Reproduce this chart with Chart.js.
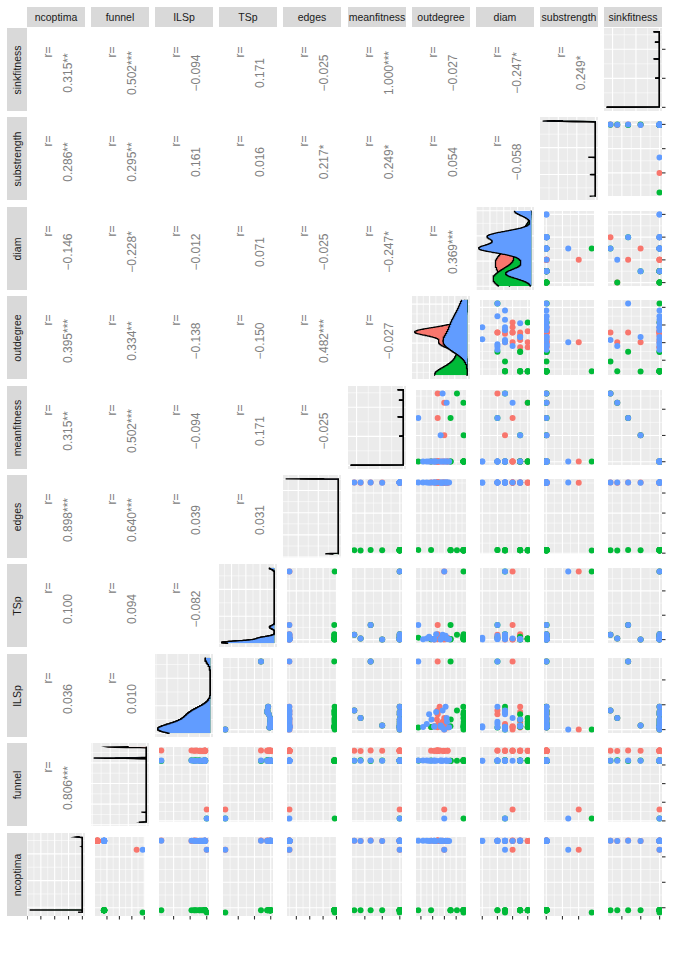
<!DOCTYPE html>
<html>
<head>
<meta charset="utf-8">
<script src="https://cdn.jsdelivr.net/npm/chart.js@4.4.0/dist/chart.umd.min.js"></script>
<style>
  body { margin: 0; background: #fff; width: 685px; height: 967px; position: relative; overflow: hidden;
         font-family: "Liberation Sans", Arial, sans-serif; }
  .strip { position: absolute; background: #d9d9d9; color: #1a1a1a; font-size: 10.5px;
           display: flex; align-items: center; justify-content: center; }
  .strip span { white-space: nowrap; }
  .strip.side span { transform: rotate(-90deg); }
  .cor { position: absolute; color: #808080; font-size: 12px; white-space: nowrap;
         transform: translate(-50%, -50%) rotate(-90deg); }
  canvas { position: absolute; }
</style>
</head>
<body>
<script>
// Observations: 17 red (group 1), 17 green (group 2), 17 blue (group 3)
const group = [1,1,1,1,1,1,1,1,1,1,1,1,1,1,1,1,1,
               2,2,2,2,2,2,2,2,2,2,2,2,2,2,2,2,2,
               3,3,3,3,3,3,3,3,3,3,3,3,3,3,3,3,3];

const ncoptima = [363.1,362.0,364.0,362.6,327.5,363.4,362.3,363.8,361.9,363.2,362.8,363.5,362.1,363.9,362.7,363.0,362.4,
                  89.9,90.1,89.8,90.2,81.6,90.0,89.9,90.1,89.8,90.0,90.2,89.9,90.0,90.1,89.8,90.0,89.9,
                  363.3,362.4,363.7,362.0,327.9,362.9,363.6,362.2,363.1,362.5,363.9,362.8,363.4,362.1,363.0,362.6,363.2];
const funnel = [0.941,0.937,0.944,0.939,0.153,0.942,0.936,0.940,0.943,0.938,0.941,0.945,0.937,0.940,0.942,0.939,0.943,
                0.806,0.812,0.803,0.809,0.033,0.811,0.805,0.808,0.814,0.802,0.807,0.810,0.804,0.813,0.806,0.809,0.807,
                0.808,0.806,0.810,0.807,0.031,0.809,0.805,0.808,0.811,0.806,0.809,0.807,0.810,0.805,0.808,0.806,0.809];
const ILSp = [0.192,0.117,0.686,0.041,0,0.026,0.034,0.022,0.230,0.079,0.030,0.154,0.056,0.177,0.102,0.024,0.028,
              0.192,0.117,0.686,0.041,0,0.026,0.034,0.022,0.230,0.079,0.030,0.154,0.056,0.177,0.102,0.024,0.028,
              0.192,0.117,0.686,0.041,0,0.026,0.034,0.022,0.230,0.079,0.030,0.154,0.056,0.177,0.102,0.024,0.028];
const TSp = [0.050,0.010,0.150,0,0.700,0.003,0.002,0.020,0.040,0.008,0.005,0.030,0.012,0.055,0.006,0.004,0.009,
             0.050,0.010,0.150,0,0.700,0.003,0.002,0.020,0.040,0.008,0.005,0.030,0.012,0.055,0.006,0.004,0.009,
             0.050,0.010,0.150,0,0.700,0.003,0.002,0.020,0.040,0.008,0.005,0.030,0.012,0.055,0.006,0.004,0.009];
const edges = [352.4,351.6,353.0,352.1,351.8,352.6,352.2,351.9,352.8,352.3,351.7,352.5,352.0,352.7,352.2,352.1,351.9,
               15.2,13.8,16.1,14.6,12.9,15.8,14.1,16.4,13.5,15.0,14.4,15.5,13.2,16.0,14.8,14.9,15.3,
               352.3,352.0,352.6,351.8,352.4,352.1,352.9,351.7,352.5,352.2,352.8,351.9,352.4,352.6,352.0,352.3,352.1];
const meanfitness = [0.901,0.811,0.667,0.502,0.2515,0.2512,0.2518,0.2514,0.2516,0.2511,0.2517,0.2513,0.2519,0.2515,0.2512,0.2514,0.2516,
                     0.901,0.811,0.667,0.502,0.2515,0.2512,0.2518,0.2514,0.2516,0.2511,0.2517,0.2513,0.2519,0.2515,0.2512,0.2514,0.2516,
                     0.901,0.811,0.667,0.502,0.2515,0.2512,0.2518,0.2514,0.2516,0.2511,0.2517,0.2513,0.2519,0.2515,0.2512,0.2514,0.2516];
const outdegree = [2.287,2.007,2.287,2.007,2.007,2.567,2.433,1.865,2.204,2.077,1.865,2.287,2.250,2.287,2.320,2.287,2.350,
                   1.466,1.190,1.738,1.182,1.186,2.567,1.745,3.112,1.195,1.178,1.188,1.192,1.184,1.180,1.731,1.187,1.183,
                   2.077,1.905,3.112,2.160,2.007,2.909,2.433,2.094,1.950,1.890,2.160,2.650,2.750,2.350,2.550,1.800,2.433];
const diam = [6,2,4,5,4,4,4,3,3,3,2,6,5,3,2,4,5,
              5,2,6,3,5,2,3,6,5,2,3,3,2,5,3,2,3,
              5,4,6,3,5,5,8,8,6,6,3,5,6,5,3,6,5];
const substrength = [0.998,0.994,1.0,0.996,0.498,0.999,0.993,0.997,1.0,0.995,0.998,0.996,0.999,0.994,1.0,0.997,0.995,
                     0.997,0.999,0.995,1.0,0.297,0.996,0.998,0.994,0.999,1.0,0.995,0.997,0.993,0.998,0.996,0.999,0.996,
                     1.0,0.996,0.998,0.995,0.660,0.999,0.997,1.0,0.994,0.998,0.996,0.999,0.995,1.0,0.997,0.998,0.996];
const sinkfitness = [0.901,0.811,0.667,0.502,0.2515,0.2512,0.2518,0.2514,0.2516,0.2511,0.2517,0.2513,0.2519,0.2515,0.2512,0.2514,0.2516,
                     0.901,0.811,0.667,0.502,0.2515,0.2512,0.2518,0.2514,0.2516,0.2511,0.2517,0.2513,0.2519,0.2515,0.2512,0.2514,0.2516,
                     0.901,0.811,0.667,0.502,0.2515,0.2512,0.2518,0.2514,0.2516,0.2511,0.2517,0.2513,0.2519,0.2515,0.2512,0.2514,0.2516];

// axis breaks (tick labels)
const ncoptimaTicks = [100, 200, 300];
const funnelTicks = [0, 0.25, 0.5, 0.75];
const ILSpTicks = [0, 0.25, 0.5];
const TSpTicks = [0, 0.25, 0.5];
const edgesTicks = [0, 100, 200, 300];
const meanfitnessTicks = [0.25, 0.5, 0.75];
const outdegreeTicks = [1.5, 2, 2.5, 3];
const diamTicks = [2, 4, 6, 8];
const substrengthTicks = [0.5, 0.75, 1];
const sinkfitnessTicks = [0.25, 0.5, 0.75];

// correlation labels, one row per variable, columns from ncoptima on
const corFunnel = ['0.806***'];
const corILSp = ['0.036', '0.010'];
const corTSp = ['0.100', '0.094', '\u22120.082'];
const corEdges = ['0.898***', '0.640***', '0.039', '0.031'];
const corMeanfitness = ['0.315**', '0.502***', '\u22120.094', '0.171', '\u22120.025'];
const corOutdegree = ['0.395***', '0.334**', '\u22120.138', '\u22120.150', '0.482***', '\u22120.027'];
const corDiam = ['\u22120.146', '\u22120.228*', '\u22120.012', '0.071', '\u22120.025', '\u22120.247*', '0.369***'];
const corSubstrength = ['0.286**', '0.295**', '0.161', '0.016', '0.217*', '0.249*', '0.054', '\u22120.058'];
const corSinkfitness = ['0.315**', '0.502***', '\u22120.094', '0.171', '\u22120.025', '1.000***', '\u22120.027', '\u22120.247*', '0.249*'];

const varNames = ['ncoptima','funnel','ILSp','TSp','edges','meanfitness','outdegree','diam','substrength','sinkfitness'];
const columns = [ncoptima, funnel, ILSp, TSp, edges, meanfitness, outdegree, diam, substrength, sinkfitness];
const tickSets = [ncoptimaTicks, funnelTicks, ILSpTicks, TSpTicks, edgesTicks, meanfitnessTicks,
                  outdegreeTicks, diamTicks, substrengthTicks, sinkfitnessTicks];
const corRows = [[], corFunnel, corILSp, corTSp, corEdges, corMeanfitness, corOutdegree, corDiam, corSubstrength, corSinkfitness];

const groupColors = {1: '#F8766D', 2: '#00BA38', 3: '#619CFF'};

// layout
const colLeft = c => Math.round(27 + 64.1 * c);
const rowTop = r => Math.round(28 + 89.4 * r);
const PW = 58, PH = 83, TICK = 5;

function limits(v) {
    const mn = Math.min(...v), mx = Math.max(...v), d = (mx - mn) * 0.05;
    return [mn - d, mx + d];
}

function minorBreaks(major, lo, hi) {
    if (major.length < 2) return [];
    const st = major[1] - major[0];
    const out = [];
    for (let v = major[0] - st / 2; v <= hi + 1e-12; v += st) {
        if (v >= lo) out.push(v);
    }
    return out.filter(v => !major.some(m => Math.abs(m - v) < st * 1e-6));
}

function prettyBreaks(max) {
    const raw = max / 4.5;
    const mag = Math.pow(10, Math.floor(Math.log10(raw)));
    const r = raw / mag;
    const nice = r <= 1 ? 1 : (r <= 2 ? 2 : (r <= 5 ? 5 : 10));
    const st = nice * mag;
    const out = [];
    for (let v = 0; v <= max * 1.05; v += st) out.push(v);
    return out;
}

// bandwidth like R's bw.nrd0
function bwNrd0(v) {
    const n = v.length;
    const m = v.reduce((a, b) => a + b, 0) / n;
    const sd = Math.sqrt(v.reduce((a, b) => a + (b - m) * (b - m), 0) / (n - 1));
    const s = [...v].sort((a, b) => a - b);
    const q = p => { const h = (n - 1) * p, i = Math.floor(h); return s[i] + (h - i) * (s[Math.min(i + 1, n - 1)] - s[i]); };
    let lo = Math.min(sd, (q(0.75) - q(0.25)) / 1.34);
    if (!lo) lo = sd || Math.abs(v[0]) || 1;
    return 0.9 * lo * Math.pow(n, -0.2);
}

// binned gaussian density on a 512 point grid
function density(v, from, to) {
    const n = 512;
    const bw = bwNrd0(v);
    const step = (to - from) / (n - 1);
    const w = new Array(n).fill(0);
    v.forEach(x => {
        const p = (x - from) / step;
        let i = Math.floor(p), f = p - i;
        if (i >= n - 1) { i = n - 2; f = 1; }
        if (i < 0) { i = 0; f = 0; }
        w[i] += (1 - f) / v.length;
        w[i + 1] += f / v.length;
    });
    const kmax = Math.ceil(5 * bw / step);
    const out = [];
    for (let j = 0; j < n; j++) {
        let d = 0;
        for (let k = Math.max(0, j - kmax); k <= Math.min(n - 1, j + kmax); k++) {
            if (w[k]) { const z = (j - k) * step / bw; d += w[k] * Math.exp(-0.5 * z * z); }
        }
        out.push({x: d / (bw * Math.sqrt(2 * Math.PI)), y: from + j * step});
    }
    return out;
}

function panelPlugin(xMaj, xMin, yMaj, yMin, tickBottom, tickRight) {
    return {
        id: 'panelGrid',
        beforeDraw(chart) {
            const {ctx, chartArea: a} = chart;
            const sx = chart.scales.x, sy = chart.scales.y;
            const line = (x1, y1, x2, y2, lw) => {
                ctx.lineWidth = lw;
                ctx.beginPath(); ctx.moveTo(x1, y1); ctx.lineTo(x2, y2); ctx.stroke();
            };
            ctx.save();
            ctx.fillStyle = '#ebebeb';
            ctx.fillRect(a.left, a.top, a.right - a.left, a.bottom - a.top);
            ctx.strokeStyle = '#ffffff';
            xMin.forEach(v => { const p = sx.getPixelForValue(v); line(p, a.top, p, a.bottom, 0.55); });
            yMin.forEach(v => { const p = sy.getPixelForValue(v); line(a.left, p, a.right, p, 0.55); });
            xMaj.forEach(v => { const p = sx.getPixelForValue(v); line(p, a.top, p, a.bottom, 1.1); });
            yMaj.forEach(v => { const p = sy.getPixelForValue(v); line(a.left, p, a.right, p, 1.1); });
            ctx.strokeStyle = '#333333';
            if (tickBottom) xMaj.forEach(v => { const p = sx.getPixelForValue(v); line(p, a.bottom, p, a.bottom + 3.5, 1.1); });
            if (tickRight) yMaj.forEach(v => { const p = sy.getPixelForValue(v); line(a.right, p, a.right + 3.5, p, 1.1); });
            ctx.restore();
        }
    };
}

function addCanvas(left, top, w, h) {
    const cv = document.createElement('canvas');
    cv.width = w; cv.height = h;
    cv.style.left = left + 'px'; cv.style.top = top + 'px';
    cv.style.width = w + 'px'; cv.style.height = h + 'px';
    document.body.appendChild(cv);
    return cv;
}

function addDiv(cls, left, top, w, h, text) {
    const d = document.createElement('div');
    d.className = cls;
    d.style.left = left + 'px'; d.style.top = top + 'px';
    if (w) d.style.width = w + 'px';
    if (h) d.style.height = h + 'px';
    const s = document.createElement('span');
    s.textContent = text;
    d.appendChild(s);
    document.body.appendChild(d);
    return d;
}

const lims = columns.map(limits);
const majors = tickSets.map((t, i) => t.filter(v => v >= lims[i][0] && v <= lims[i][1]));
const minors = tickSets.map((t, i) => minorBreaks(t, lims[i][0], lims[i][1]));

// strips
varNames.forEach((name, c) => addDiv('strip', colLeft(c), 7, PW, 20, name));
for (let r = 0; r < 10; r++) addDiv('strip side', 7, rowTop(r), 20, PH, varNames[9 - r]);

for (let r = 0; r < 10; r++) {
    const vi = 9 - r;
    for (let c = 0; c < 10; c++) {
        const left = colLeft(c), top = rowTop(r);
        const bottomRow = r === 9, rightCol = c === 9;
        if (c < vi) {
            const cx = left + PW / 2, cy = top + PH / 2;
            const a = document.createElement('div');
            a.className = 'cor'; a.textContent = 'r=';
            a.style.left = (cx - 8) + 'px'; a.style.top = (cy - 18) + 'px';
            document.body.appendChild(a);
            const b = document.createElement('div');
            b.className = 'cor'; b.textContent = corRows[vi][c];
            b.style.left = (cx + 12) + 'px'; b.style.top = (cy + 3.5) + 'px';
            document.body.appendChild(b);
            continue;
        }
        const cv = addCanvas(left, top, PW + (rightCol ? TICK : 0), PH + (bottomRow ? TICK : 0));
        const padding = {left: 0, top: 0, right: rightCol ? TICK : 0, bottom: bottomRow ? TICK : 0};
        const [ylo, yhi] = lims[vi];
        if (c === vi) {
            // diagonal: density per group, variable on the vertical axis
            const v = columns[vi];
            const curves = {};
            [1, 2, 3].forEach(g => {
                curves[g] = density(v.filter((_, i) => group[i] === g), Math.min(...v), Math.max(...v));
            });
            const maxD = Math.max(...[1, 2, 3].map(g => Math.max(...curves[g].map(p => p.x))));
            const dMaj = prettyBreaks(maxD);
            const dMin = minorBreaks(dMaj, -0.05 * maxD, 1.05 * maxD);
            new Chart(cv, {
                type: 'line',
                data: {
                    datasets: [3, 2, 1].map(g => ({
                        data: curves[g],
                        borderColor: '#000000',
                        borderWidth: 1.3,
                        backgroundColor: groupColors[g],
                        fill: 'origin',
                        pointRadius: 0,
                        tension: 0
                    }))
                },
                options: {
                    indexAxis: 'y',
                    animation: false, responsive: false, events: [],
                    layout: {padding},
                    scales: {
                        x: {type: 'linear', reverse: true, min: -0.05 * maxD, max: 1.05 * maxD, display: false},
                        y: {type: 'linear', min: ylo, max: yhi, display: false}
                    },
                    plugins: {legend: {display: false}, tooltip: {enabled: false}}
                },
                plugins: [panelPlugin(dMaj, dMin, majors[vi], minors[vi], bottomRow, rightCol)]
            });
        } else {
            const [xlo, xhi] = lims[c];
            const pts = columns[c].map((x, i) => ({x, y: columns[vi][i]}));
            new Chart(cv, {
                type: 'scatter',
                data: {
                    datasets: [{
                        data: pts,
                        backgroundColor: group.map(g => groupColors[g]),
                        borderWidth: 0,
                        pointRadius: 3,
                        clip: 0
                    }]
                },
                options: {
                    animation: false, responsive: false, events: [],
                    layout: {padding},
                    scales: {
                        x: {type: 'linear', reverse: true, min: xlo, max: xhi, display: false},
                        y: {type: 'linear', min: ylo, max: yhi, display: false}
                    },
                    plugins: {legend: {display: false}, tooltip: {enabled: false}}
                },
                plugins: [panelPlugin(majors[c], minors[c], majors[vi], minors[vi], bottomRow, rightCol)]
            });
        }
    }
}
</script>
</body>
</html>
